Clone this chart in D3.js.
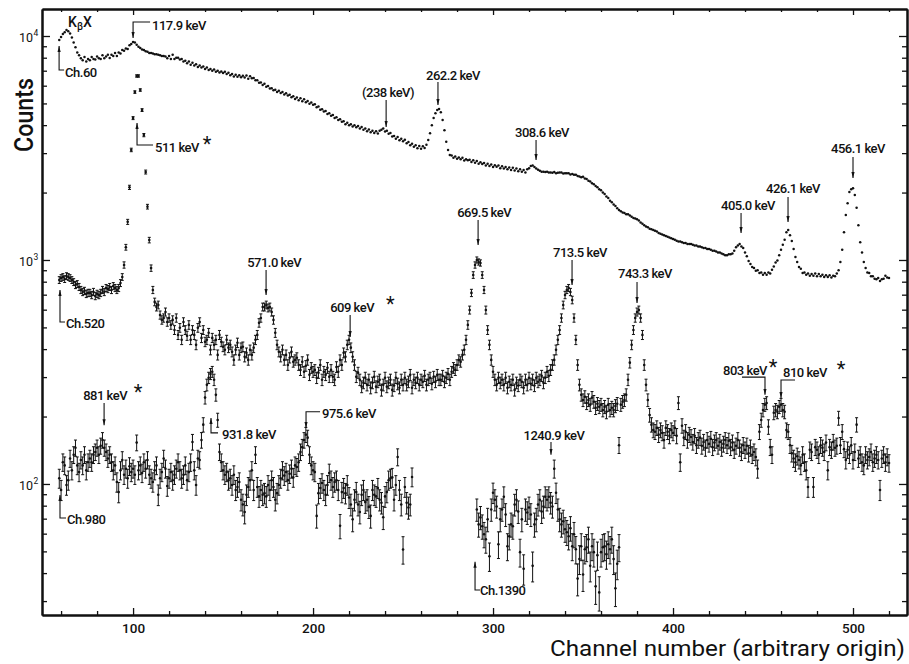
<!DOCTYPE html>
<html>
<head>
<meta charset="utf-8">
<script src="https://cdn.jsdelivr.net/npm/d3@7"></script>
<style>
body { margin: 0; background: #fff; }
svg { display: block; }
text { font-family: Roboto, "DejaVu Sans", sans-serif; fill: #111; }
</style>
</head>
<body>
<div id="chart"></div>
<script>
var width = 909,
	height = 664,
	ink = "#111";

// top spectrum (starts Ch.60), counts per channel from channel 59
var s1Start = 59;
var s1Counts = [
	9600, 9900, 10200, 10400, 10640, 10500, 10250, 9850, 9350, 8900,
	8450, 8200, 7950, 7800, 8050, 7700, 7900, 7800, 8050, 7900,
	7850, 8100, 7950, 7900, 8200, 7950, 8100, 8250, 7980, 8250,
	8150, 8400, 8150, 8450, 8350, 8650, 8600, 8800, 8750, 9100,
	9200, 9400, 9350, 9150, 8950, 8850, 8700, 8650, 8550, 8500,
	8400, 8400, 8350, 8300, 8300, 8250, 8200, 8150, 8150, 8100,
	7950, 8150, 7900, 8250, 7900, 8000, 8000, 7850, 7900, 7700,
	7750, 7550, 7700, 7450, 7600, 7380, 7480, 7280, 7380, 7230,
	7300, 7120, 7230, 7050, 7130, 7000, 7080, 6920, 7000, 6880,
	6950, 6830, 6920, 6760, 6850, 6680, 6760, 6600, 6720, 6580,
	6680, 6550, 6650, 6530, 6670, 6450, 6620, 6480, 6500, 6350,
	6350, 6180, 6200, 6050, 6120, 5930, 5980, 5830, 5850, 5730,
	5760, 5630, 5700, 5560, 5630, 5480, 5550, 5420, 5470, 5330,
	5380, 5230, 5310, 5160, 5270, 5110, 5220, 5060, 5120, 4980,
	5050, 4930, 4960, 4810, 4840, 4680, 4710, 4600, 4620, 4480,
	4520, 4400, 4440, 4310, 4340, 4220, 4250, 4140, 4160, 4040,
	4100, 4000, 4040, 3940, 4000, 3910, 3960, 3860, 3920, 3810,
	3860, 3760, 3820, 3720, 3780, 3690, 3760, 3670, 3780, 3810,
	3860, 3750, 3780, 3660, 3690, 3560, 3580, 3480, 3540, 3420,
	3480, 3390, 3440, 3320, 3360, 3250, 3300, 3200, 3250, 3150,
	3230, 3140, 3220, 3160, 3270, 3430, 3680, 4000, 4300, 4520,
	4670, 4720, 4570, 4215, 3800, 3370, 3100, 2940, 2930, 2860,
	2900, 2830, 2870, 2820, 2860, 2780, 2820, 2790, 2800, 2740,
	2790, 2720, 2770, 2690, 2730, 2680, 2710, 2640, 2690, 2630,
	2670, 2600, 2650, 2610, 2640, 2570, 2620, 2560, 2600, 2540,
	2590, 2520, 2580, 2510, 2560, 2490, 2540, 2480, 2520, 2460,
	2540, 2570, 2630, 2640, 2600, 2560, 2530, 2500, 2480, 2480,
	2470, 2480, 2460, 2460, 2450, 2470, 2440, 2450, 2460, 2460,
	2430, 2440, 2440, 2440, 2410, 2420, 2400, 2400, 2370, 2360,
	2340, 2350, 2310, 2300, 2260, 2240, 2200, 2180, 2140, 2110,
	2070, 2050, 2000, 1970, 1920, 1890, 1840, 1810, 1770, 1740,
	1700, 1670, 1650, 1630, 1620, 1600, 1600, 1580, 1560, 1540,
	1530, 1520, 1500, 1470, 1450, 1430, 1410, 1400, 1380, 1370,
	1360, 1350, 1340, 1320, 1310, 1300, 1290, 1280, 1270, 1260,
	1250, 1240, 1230, 1220, 1210, 1210, 1200, 1190, 1190, 1180,
	1180, 1180, 1170, 1160, 1160, 1150, 1150, 1140, 1130, 1130,
	1120, 1120, 1110, 1100, 1100, 1090, 1080, 1080, 1070, 1060,
	1050, 1050, 1060, 1060, 1070, 1100, 1140, 1160, 1180, 1150,
	1130, 1080, 1040, 990, 960, 930, 920, 895, 900, 875,
	880, 860, 875, 860, 880, 870, 905, 935, 975, 995,
	1050, 1110, 1170, 1230, 1330, 1360, 1290, 1215, 1120, 1030,
	980, 930, 915, 875, 880, 860, 870, 850, 865, 850,
	870, 845, 865, 845, 860, 840, 855, 840, 855, 835,
	850, 845, 870, 900, 980, 1110, 1330, 1590, 1790, 2010,
	2070, 2090, 1950, 1710, 1430, 1200, 1080, 980, 920, 880,
	875, 845, 845, 825, 820, 830, 805, 820, 825, 850,
	835, 830
];

// second spectrum (Ch.520)
var s2Start = 59;
var s2Counts = [
	814, 831, 840, 822, 848, 840, 831, 814, 797, 773,
	781, 758, 735, 720, 728, 706, 713, 713, 698, 720,
	691, 706, 698, 713, 735, 720, 750, 742, 758, 735,
	765, 750, 735, 750, 789, 840, 950, 1140, 1480, 2110,
	3100, 4300, 5620, 6630, 6630, 5740, 4670, 3610, 2470, 1730,
	1227, 920, 735, 650, 617, 630, 568, 540, 551, 586,
	529, 551, 513, 540, 487, 551, 463, 498, 440, 529,
	487, 459, 513, 440, 487, 463, 418, 498, 529, 449,
	487, 431, 440, 473, 397, 449, 418, 440, 377, 463,
	431, 410, 397, 440, 406, 418, 389, 358, 397, 427,
	377, 406, 410, 370, 385, 358, 397, 377, 406, 440,
	463, 524, 551, 617, 617, 630, 611, 617, 586, 540,
	473, 418, 389, 370, 397, 358, 377, 340, 366, 389,
	351, 358, 366, 340, 323, 351, 317, 337, 358, 307,
	330, 317, 323, 298, 314, 340, 292, 317, 307, 330,
	301, 323, 301, 292, 333, 317, 358, 340, 385, 370,
	418, 440, 406, 370, 340, 301, 314, 292, 272, 283,
	298, 277, 292, 269, 283, 301, 272, 286, 292, 263,
	277, 298, 272, 283, 292, 263, 275, 298, 280, 269,
	292, 277, 298, 277, 286, 307, 269, 292, 283, 298,
	277, 292, 286, 304, 277, 292, 298, 280, 301, 286,
	307, 292, 292, 304, 286, 298, 310, 292, 317, 330,
	323, 340, 358, 351, 377, 397, 440, 513, 598, 713,
	857, 950, 1000, 980, 970, 857, 735, 598, 487, 418,
	358, 317, 292, 277, 298, 283, 292, 277, 298, 269,
	286, 277, 292, 263, 283, 275, 292, 286, 269, 292,
	277, 298, 280, 292, 275, 298, 286, 292, 304, 283,
	298, 317, 304, 323, 340, 358, 397, 440, 487, 551,
	630, 698, 735, 750, 720, 663, 551, 440, 340, 277,
	250, 237, 245, 230, 237, 226, 243, 233, 219, 228,
	221, 226, 214, 221, 210, 226, 214, 219, 214, 223,
	228, 149, 226, 233, 237, 250, 292, 348, 418, 487,
	551, 586, 598, 551, 463, 340, 277, 237, 203, 184,
	174, 171, 178, 166, 174, 169, 157, 178, 171, 164,
	174, 169, 178, 164, 230, 125, 182, 161, 171, 157,
	166, 162, 154, 164, 149, 157, 161, 148, 154, 145,
	157, 151, 159, 146, 153, 157, 148, 154, 145, 151,
	157, 149, 156, 146, 153, 142, 148, 157, 145, 139,
	149, 142, 148, 137, 145, 135, 139, 132, 117, 171,
	193, 214, 226, 230, 180, 146, 135, 208, 214, 210,
	221, 226, 214, 210, 174, 171, 149, 137, 130, 125,
	133, 128, 121, 135, 125, 115, 97, 142, 139, 97,
	146, 142, 135, 149, 145, 139, 153, 115, 146, 142,
	154, 145, 148, 197, 149, 171, 143, 128, 142, 135,
	149, 128, 139, 184, 130, 135, 125, 121, 135, 128,
	132, 139, 125, 130, 135, 128, 94, 130, 135, 125,
	132, 124
];

// third spectrum (Ch.980)
var s3Start = 59;
var s3Counts = [
	106, 94, 125, 121, 99, 104, 130, 115, 135, 145,
	121, 113, 128, 121, 135, 115, 125, 130, 125, 135,
	139, 145, 135, 148, 157, 145, 139, 130, 135, 125,
	115, 121, 102, 92, 115, 128, 110, 117, 106, 120,
	113, 117, 110, 153, 115, 121, 112, 125, 117, 128,
	110, 106, 102, 115, 121, 89.5, 106, 113, 130, 117,
	98, 106, 113, 104, 110, 117, 125, 115, 106, 110,
	121, 104, 113, 125, 154, 115, 99, 130, 128, 157,
	184, 243, 277, 298, 310, 317, 292, 250, 193, 139,
	125, 115, 110, 113, 104, 106, 99, 110, 94, 97,
	102, 85, 81, 75, 89.5, 97, 104, 115, 94, 135,
	97, 88, 94, 89.5, 91, 88, 99, 94, 104, 97,
	85, 91, 99, 106, 115, 109, 113, 104, 111, 117,
	107, 121, 119, 125, 139, 146, 157, 166, 161, 135,
	121, 115, 113, 72, 91, 96, 101, 94, 89.5, 99,
	112, 104, 97, 102, 104, 94, 65, 92, 96, 91,
	99, 87, 81, 69.5, 85, 92, 81, 75, 89.5, 94,
	83, 85, 79, 72, 94, 89.5, 88, 96, 85, 82.5,
	71, 88, 92, 104, 106, 107, 85, 99, 132, 94,
	81, 51, 97, 82.5, 78.5, 81, 107.5
];

// fourth spectrum (Ch.1390)
var s4Start = 291;
var s4Counts = [
	76.9, 66, 70.9, 64.7, 59.6, 56.6, 69.5, 47.6, 76.9, 91.3,
	85, 79.3, 53.8, 69.5, 76.9, 87.7, 73.1, 52.7, 58.4, 66,
	64.7, 80.9, 85, 75.3, 49.6, 69.5, 41.8, 76.9, 74.6, 78.5,
	73.1, 43.1, 66, 69.5, 80.9, 85, 75.3, 79.3, 87.7, 85,
	87.7, 82.5, 79.3, 117, 91.3, 76.9, 69.5, 66, 68.1, 62.8,
	60.9, 58.4, 63.5, 52.7, 59.6, 51.1, 37.8, 46.2, 52.7, 39.4,
	51.1, 52.2, 56.6, 43.1, 52.7, 49.6, 34.9, 48.1, 32.8, 49.6,
	52.2, 52.7, 48.6, 53.8, 51.1, 56.6, 46.2, 34.2, 44, 52.2
];

var xMajor = [100, 200, 300, 400, 500];
var xMinor = [60, 80, 120, 140, 160, 180, 220, 240, 260, 280, 320, 340, 360, 380,
	420, 440, 460, 480, 520];
var yMajor = [100, 1000, 10000];
var yMajorExp = ["2", "3", "4"];
var yMinor = [30, 40, 50, 60, 70, 80, 90, 200, 300, 400, 500, 600, 700, 800, 900,
	2000, 3000, 4000, 5000, 6000, 7000, 8000, 9000];

// peak markers: channel, counts at the arrow tail and tip
var marks = [
	{c: 100, from: 11550, to: 9800, hook: 17, text: "117.9 keV", dx: 19, dy: 8, anchor: "start"},
	{c: 58.9, from: 7050, to: 9020, hook: 5, text: "Ch.60", dx: 6, dy: 7, anchor: "start"},
	{c: 102.2, from: 3263, to: 4090, hook: 16, text: "511 keV", dx: 18, dy: 7, anchor: "start", star: 7},
	{c: 59.4, from: 529, to: 735, hook: 5, text: "Ch.520", dx: 6, dy: 6, anchor: "start"},
	{c: 83.9, from: 230, to: 183, hook: 0, text: "881 keV", dx: 1, dy: -3, anchor: "middle", star: 10},
	{c: 59.4, from: 70.5, to: 89.3, hook: 6, text: "Ch.980", dx: 7, dy: 6, anchor: "start"},
	{c: 143.3, from: 169, to: 197, hook: 7, text: "931.8 keV", dx: 11, dy: 6, anchor: "start"},
	{c: 196.1, from: 210, to: 178, hook: 14, text: "975.6 keV", dx: 16, dy: 6, anchor: "start"},
	{c: 332.2, from: 154, to: 135, hook: 0, text: "1240.9 keV", dx: 3, dy: -2, anchor: "middle"},
	{c: 290, from: 33.6, to: 44.9, hook: 5, text: "Ch.1390", dx: 5, dy: 5, anchor: "start"},
	{c: 240.6, from: 5178, to: 3929, hook: 0, text: "(238 keV)", dx: 2, dy: -3, anchor: "middle"},
	{c: 269.4, from: 6233, to: 4918, hook: 0, text: "262.2 keV", dx: 15, dy: -2, anchor: "middle"},
	{c: 323.9, from: 3433, to: 2795, hook: 0, text: "308.6 keV", dx: 6, dy: -3, anchor: "middle"},
	{c: 291.7, from: 1509, to: 1167, hook: 0, text: "669.5 keV", dx: 6, dy: -3, anchor: "middle"},
	{c: 343.9, from: 1000, to: 773, hook: 0, text: "713.5 keV", dx: 8, dy: -3, anchor: "middle"},
	{c: 173.9, from: 902, to: 698, hook: 0, text: "571.0 keV", dx: 8, dy: -3, anchor: "middle"},
	{c: 220.6, from: 568, to: 453, hook: 0, text: "609 keV", dx: 2, dy: -3, anchor: "middle", star: 15},
	{c: 380, from: 798, to: 643, hook: 0, text: "743.3 keV", dx: 8, dy: -4, anchor: "middle"},
	{c: 437.8, from: 1621, to: 1320, hook: 0, text: "405.0 keV", dx: 7, dy: -3, anchor: "middle"},
	{c: 463.9, from: 1911, to: 1478, hook: 0, text: "426.1 keV", dx: 5, dy: -4, anchor: "middle"},
	{c: 500, from: 2883, to: 2323, hook: 0, text: "456.1 keV", dx: 5, dy: -4, anchor: "middle"},
	{c: 451.1, from: 300, to: 250, hook: -23, text: "803 keV", dx: 2, dy: -2, anchor: "end", star: 5},
	{c: 460, from: 291, to: 242, hook: 14, text: "810 keV", dx: 2, dy: -3, anchor: "start", star: 13}
];

var svg = d3.select("#chart").append("svg")
	.attr("width", width)
	.attr("height", height);

svg.append("rect").attr("width", width).attr("height", height).attr("fill", "#fff");

var x = d3.scaleLinear().domain([49.4, 530]).range([42, 907]);
var y = d3.scaleLog().domain([26, 13200]).range([615, 9]);

svg.append("defs").append("marker")
	.attr("id", "arr")
	.attr("viewBox", "0 0 6 6")
	.attr("refX", 6).attr("refY", 3)
	.attr("markerWidth", 6).attr("markerHeight", 6)
	.attr("markerUnits", "userSpaceOnUse")
	.attr("orient", "auto")
	.append("path")
	.attr("d", "M0,1.4L6,3L0,4.6Z")
	.attr("fill", ink);

// axes
function styleAxis(g) {
	g.selectAll(".domain").attr("stroke", ink).attr("stroke-width", 2);
	g.selectAll(".tick line").attr("stroke", ink).attr("stroke-width", 1.3);
}

svg.append("g").attr("transform", "translate(0,615)")
	.call(d3.axisBottom(x).tickValues(xMajor).tickSize(-7).tickSizeOuter(0).tickPadding(8))
	.call(styleAxis)
	.call(function(g) {
		g.selectAll("text").attr("font-size", 13.5).attr("font-family", "Roboto")
			.attr("font-weight", 500).attr("fill", ink);
	});
svg.append("g").attr("transform", "translate(0,615)")
	.call(d3.axisBottom(x).tickValues(xMinor).tickSize(-4).tickSizeOuter(0).tickFormat(""))
	.call(styleAxis);
svg.append("g").attr("transform", "translate(0,9)")
	.call(d3.axisTop(x).tickValues(xMajor).tickSize(-6).tickSizeOuter(0).tickFormat(""))
	.call(styleAxis);
svg.append("g").attr("transform", "translate(0,9)")
	.call(d3.axisTop(x).tickValues(xMinor).tickSize(-3).tickSizeOuter(0).tickFormat(""))
	.call(styleAxis);

svg.append("g").attr("transform", "translate(42,0)")
	.call(d3.axisLeft(y).tickValues(yMajor).tickSize(-8).tickSizeOuter(0).tickFormat(""))
	.call(styleAxis);
svg.append("g").attr("transform", "translate(42,0)")
	.call(d3.axisLeft(y).tickValues(yMinor).tickSize(-5).tickSizeOuter(0).tickFormat(""))
	.call(styleAxis);
svg.append("g").attr("transform", "translate(907,0)")
	.call(d3.axisRight(y).tickValues(yMajor).tickSize(-8).tickSizeOuter(0).tickFormat(""))
	.call(styleAxis);
svg.append("g").attr("transform", "translate(907,0)")
	.call(d3.axisRight(y).tickValues(yMinor).tickSize(-5).tickSizeOuter(0).tickFormat(""))
	.call(styleAxis);

var yLab = svg.append("g").selectAll("text")
	.data(yMajor)
	.enter()
	.append("text")
	.attr("x", 19)
	.attr("y", function(d) { return y(d) + 6; })
	.attr("font-size", 12.5);
yLab.append("tspan").text("10");
yLab.append("tspan")
	.attr("font-size", 8.5)
	.attr("dy", -6)
	.attr("dx", 0.5)
	.text(function(d, i) { return yMajorExp[i]; });

svg.append("text")
	.attr("transform", "translate(33,152) rotate(-90)")
	.attr("font-size", 26)
	.attr("font-weight", 500)
	.attr("textLength", 74)
	.attr("lengthAdjust", "spacingAndGlyphs")
	.text("Counts");

svg.append("text")
	.attr("x", 550)
	.attr("y", 656)
	.attr("font-size", 22)
	.attr("textLength", 355)
	.attr("lengthAdjust", "spacingAndGlyphs")
	.text("Channel number (arbitrary origin)");

// spectra
function drawSeries(start, counts, bars) {
	var pts = counts.map(function(n, i) { return {c: start + i, n: n}; });
	var g = svg.append("g");
	if (bars) {
		var e = g.selectAll("g.err")
			.data(pts)
			.enter()
			.append("g")
			.attr("stroke", ink)
			.attr("stroke-width", 1);
		e.append("line")
			.attr("x1", function(d) { return x(d.c); })
			.attr("x2", function(d) { return x(d.c); })
			.attr("y1", function(d) { return y(d.n + Math.sqrt(d.n)); })
			.attr("y2", function(d) { return y(d.n - Math.sqrt(d.n)); });
		e.append("line")
			.attr("x1", function(d) { return x(d.c) - 1.5; })
			.attr("x2", function(d) { return x(d.c) + 1.5; })
			.attr("y1", function(d) { return y(d.n + Math.sqrt(d.n)); })
			.attr("y2", function(d) { return y(d.n + Math.sqrt(d.n)); });
		e.append("line")
			.attr("x1", function(d) { return x(d.c) - 1.5; })
			.attr("x2", function(d) { return x(d.c) + 1.5; })
			.attr("y1", function(d) { return y(d.n - Math.sqrt(d.n)); })
			.attr("y2", function(d) { return y(d.n - Math.sqrt(d.n)); });
	}
	g.selectAll("circle")
		.data(pts)
		.enter()
		.append("circle")
		.attr("cx", function(d) { return x(d.c); })
		.attr("cy", function(d) { return y(d.n); })
		.attr("r", bars ? 1.3 : 1.25)
		.attr("fill", ink);
}

drawSeries(s1Start, s1Counts, false);
drawSeries(s2Start, s2Counts, true);
drawSeries(s3Start, s3Counts, true);
drawSeries(s4Start, s4Counts, true);

// peak labels
var mg = svg.append("g");
marks.forEach(function(m) {
	var px = x(m.c), y0 = y(m.from), y1 = y(m.to);
	var d = "M" + px + "," + y0 + "L" + px + "," + y1;
	if (m.hook) d = "M" + (px + m.hook) + "," + y0 + "L" + px + "," + y0 + "L" + px + "," + y1;
	mg.append("path")
		.attr("d", d)
		.attr("fill", "none")
		.attr("stroke", ink)
		.attr("stroke-width", 1.1)
		.attr("marker-end", "url(#arr)");
	var t = mg.append("text")
		.attr("x", px + m.dx)
		.attr("y", y0 + m.dy)
		.attr("text-anchor", m.anchor)
		.attr("font-size", 13)
		.attr("font-weight", 500)
		.attr("letter-spacing", -0.5)
		.text(m.text);
	if (m.star) {
		var b = t.node().getBBox();
		mg.append("text")
			.attr("x", b.x + b.width + m.star)
			.attr("y", y0 + m.dy - 1)
			.attr("font-family", "DejaVu Sans")
			.attr("font-size", 20)
			.attr("text-anchor", "middle")
			.text("*");
	}
});

// K-beta X-ray label
var kb = svg.append("text")
	.attr("x", x(63.9))
	.attr("y", y(10970))
	.attr("font-size", 14)
	.attr("font-weight", 500);
kb.append("tspan").text("K");
kb.append("tspan").attr("font-size", 10).attr("dy", 3).text("β");
kb.append("tspan").attr("dy", -3).text("X");
</script>
</body>
</html>
